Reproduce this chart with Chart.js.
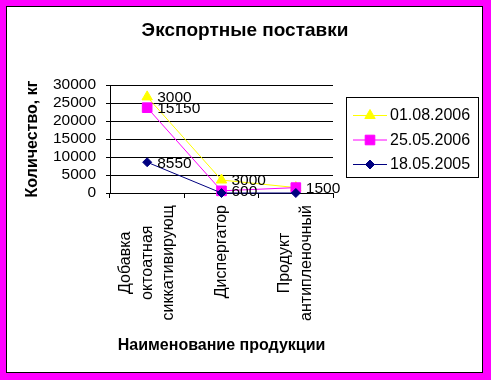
<!DOCTYPE html>
<html>
<head>
<meta charset="utf-8">
<script src="https://cdn.jsdelivr.net/npm/chart.js@4/dist/chart.umd.min.js"></script>
<style>
  html, body { margin: 0; padding: 0; background: #ff00ff; }
  #wrap { width: 491px; height: 380px; }
</style>
</head>
<body>
<div id="wrap"><canvas id="chart" width="491" height="380"></canvas></div>
<script>
// Categories (multi-line, as in the original)
const categories = [
  ['Добавка', 'октоатная', 'сиккативирующ'],
  ['Диспергатор'],
  ['Продукт', 'антипленочный']
];

// Stacked series values (bottom to top)
const values18052005 = [8550, 0, 0];
const values25052006 = [15150, 600, 1500];
const values01082006 = [3000, 3000, 0];

const seriesNames = ['18.05.2005', '25.05.2006', '01.08.2006'];
const seriesColors = ['#000080', '#ff00ff', '#ffff00'];
const seriesMarkers = ['rectRot', 'rect', 'triangle'];
const markerRadius = [4.5, 6.8, 6];

const yMin = 0;
const yMax = 30000;
const yStep = 5000;

const chartTitle = 'Экспортные поставки';

const FONT = 'Arial, "Liberation Sans", sans-serif';

// frame: magenta surround, white panel with black border, title
const framePlugin = {
  id: 'frame',
  beforeDraw(chart) {
    const ctx = chart.ctx;
    ctx.save();
    ctx.fillStyle = '#ff00ff';
    ctx.fillRect(0, 0, chart.width, chart.height);
    ctx.fillStyle = '#ffffff';
    ctx.fillRect(6.5, 6.5, 476, 366);
    ctx.strokeStyle = '#000000';
    ctx.lineWidth = 1;
    ctx.strokeRect(6.5, 6.5, 476, 366);
    ctx.font = 'bold 19px ' + FONT;
    ctx.fillStyle = '#000';
    ctx.textAlign = 'center';
    ctx.textBaseline = 'middle';
    ctx.fillText(chartTitle, 245, 31);
    ctx.restore();
  }
};

// rotated, centred category labels under the x axis
const categoryLabels = {
  id: 'categoryLabels',
  afterDraw(chart) {
    const ctx = chart.ctx;
    const xScale = chart.scales.x;
    const top = xScale.top + 12;
    const lineH = 21.5;
    ctx.save();
    ctx.font = '16px ' + FONT;
    ctx.fillStyle = '#000';
    ctx.textAlign = 'center';
    ctx.textBaseline = 'middle';
    categories.forEach((lines, i) => {
      const px = xScale.getPixelForTick(i);
      const maxW = Math.max(...lines.map(l => ctx.measureText(l).width));
      ctx.save();
      ctx.translate(px, top + maxW / 2);
      ctx.rotate(-Math.PI / 2);
      lines.forEach((l, j) => {
        ctx.fillText(l, 0, (j - (lines.length - 1) / 2) * lineH);
      });
      ctx.restore();
    });
    ctx.restore();
  }
};

// value labels to the right of each point
const valueLabels = {
  id: 'valueLabels',
  afterDatasetsDraw(chart) {
    const ctx = chart.ctx;
    ctx.save();
    ctx.font = '15.5px ' + FONT;
    ctx.fillStyle = '#000';
    ctx.textAlign = 'left';
    ctx.textBaseline = 'middle';
    chart.data.datasets.forEach((ds, di) => {
      const meta = chart.getDatasetMeta(di);
      meta.data.forEach((pt, i) => {
        const v = ds.data[i];
        if (!v) return;
        ctx.fillText(String(v), pt.x + 10, pt.y + 1);
      });
    });
    ctx.restore();
  }
};

// Excel-like legend box with line + marker
const boxLegend = {
  id: 'boxLegend',
  afterDraw(chart) {
    const ctx = chart.ctx;
    ctx.save();
    ctx.strokeStyle = '#000';
    ctx.lineWidth = 1;
    ctx.strokeRect(346.5, 97.5, 132, 80);
    ctx.font = '16px ' + FONT;
    ctx.textBaseline = 'middle';
    ctx.textAlign = 'left';
    const order = [2, 1, 0];
    order.forEach((di, k) => {
      const ds = chart.data.datasets[di];
      const y = 115 + k * 24.5;
      ctx.strokeStyle = ds.borderColor;
      ctx.beginPath();
      ctx.moveTo(353, y + 0.5);
      ctx.lineTo(387, y + 0.5);
      ctx.stroke();
      ctx.fillStyle = ds.backgroundColor;
      Chart.helpers.drawPoint(ctx, {
        pointStyle: ds.pointStyle, radius: ds.pointRadius, rotation: 0, borderWidth: 1
      }, 370, y + 0.5);
      ctx.fillStyle = '#000';
      ctx.fillText(ds.label, 390, y + 1);
    });
    ctx.restore();
  }
};

const valuesList = [values18052005, values25052006, values01082006];
const datasets = valuesList.map((vals, i) => ({
  label: seriesNames[i],
  data: vals,
  borderColor: seriesColors[i],
  backgroundColor: seriesColors[i],
  pointBorderColor: seriesColors[i],
  pointBackgroundColor: seriesColors[i],
  borderWidth: 1,
  pointStyle: seriesMarkers[i],
  pointRadius: markerRadius[i],
  pointBorderWidth: 1,
  tension: 0,
  fill: false,
  clip: false
}));

new Chart(document.getElementById('chart'), {
  type: 'line',
  data: { labels: categories, datasets },
  options: {
    responsive: false,
    animation: false,
    layout: { padding: { left: 0, right: 158, top: 85, bottom: 0 } },
    plugins: {
      legend: { display: false },
      tooltip: { enabled: false },
      title: { display: false }
    },
    scales: {
      x: {
        offset: true,
        grid: {
          offset: true,
          drawOnChartArea: false,
          drawTicks: true,
          tickLength: 5,
          color: '#000'
        },
        border: { display: true, color: '#000' },
        ticks: { display: false },
        title: {
          display: true,
          text: 'Наименование продукции',
          color: '#000',
          font: { family: FONT, size: 16, weight: 'bold' },
          padding: { top: 4, bottom: 25 }
        },
        afterFit(scale) { scale.height = 187; }
      },
      y: {
        stacked: true,
        min: yMin,
        max: yMax,
        ticks: {
          stepSize: yStep,
          autoSkip: false,
          color: '#000',
          padding: 10,
          font: { family: FONT, size: 15.5 },
          callback: v => String(v)
        },
        grid: { color: '#000', tickLength: 4 },
        border: { display: true, color: '#000' },
        title: {
          display: true,
          text: 'Количество, кг',
          color: '#000',
          font: { family: FONT, size: 16, weight: 'bold' },
          padding: { top: 23, bottom: 0 }
        },
        afterFit(scale) { scale.width = 110; }
      }
    }
  },
  plugins: [framePlugin, categoryLabels, valueLabels, boxLegend]
});
</script>
</body>
</html>
